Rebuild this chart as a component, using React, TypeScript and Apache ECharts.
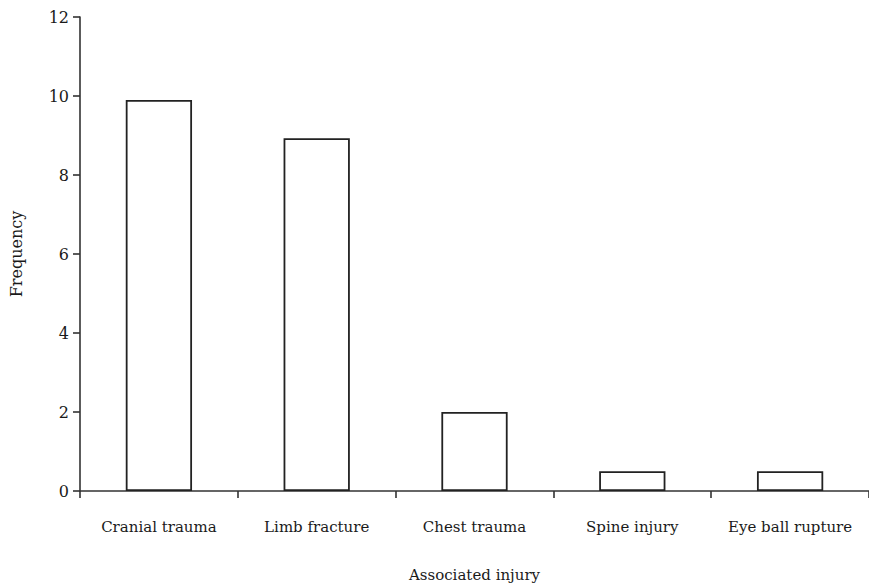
import React, { useEffect, useRef } from "react";
import * as echarts from "echarts";

const categories = ["Cranial trauma", "Limb fracture", "Chest trauma", "Spine injury", "Eye ball rupture"];
const frequency = [9.9, 8.93, 2, 0.5, 0.5];
const yTicks = { min: 0, max: 12, interval: 2 };

export default function App() {
  const ref = useRef<HTMLDivElement>(null);
  useEffect(() => {
    if (!ref.current) return;
    const chart = echarts.init(ref.current, undefined, { renderer: "svg" });
    const font = "'DejaVu Serif', 'Liberation Serif', serif";
    chart.setOption({
      animation: false,
      backgroundColor: "#ffffff",
      grid: { left: 76, right: 0, top: 17, bottom: 94, containLabel: false },
      xAxis: {
        type: "category",
        data: categories,
        name: "Associated injury",
        nameLocation: "middle",
        nameGap: 76,
        nameTextStyle: { fontFamily: font, fontSize: 15, color: "#1a1a1a" },
        axisLine: { show: true, lineStyle: { color: "#333", width: 1.6 } },
        axisTick: { show: true, alignWithLabel: false, length: 7, lineStyle: { color: "#333", width: 1.6 } },
        axisLabel: { fontFamily: font, fontSize: 15, color: "#1a1a1a", margin: 28, interval: 0 },
        splitLine: { show: false },
      },
      yAxis: {
        type: "value",
        min: yTicks.min,
        max: yTicks.max,
        interval: yTicks.interval,
        name: "Frequency",
        nameLocation: "middle",
        nameGap: 56,
        nameRotate: 90,
        nameTextStyle: { fontFamily: font, fontSize: 16, color: "#1a1a1a" },
        axisLine: { show: true, lineStyle: { color: "#333", width: 1.6 } },
        axisTick: { show: true, length: 7, lineStyle: { color: "#333", width: 1.6 } },
        axisLabel: { fontFamily: font, fontSize: 16, color: "#1a1a1a", margin: 11 },
        splitLine: { show: false },
      },
      series: [
        {
          type: "bar",
          data: frequency,
          barWidth: "42%",
          itemStyle: { color: "#ffffff", borderColor: "#222", borderWidth: 1.8 },
        },
      ],
    });
    return () => chart.dispose();
  }, []);
  return <div ref={ref} style={{ width: 869, height: 587, position: "absolute", left: 0, top: 0 }} />;
}
